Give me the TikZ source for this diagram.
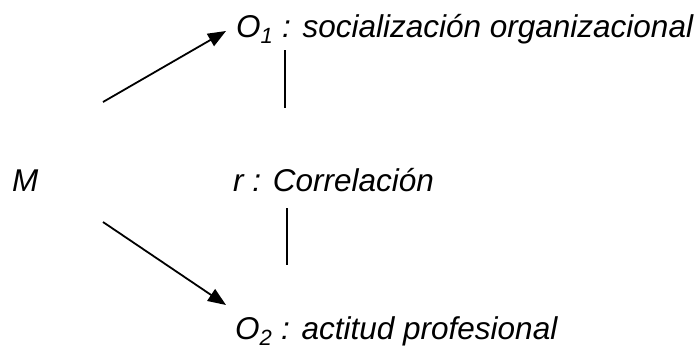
\documentclass[tikz,border=0pt]{standalone}
\usepackage{fontspec}
\setmainfont{Liberation Sans}
\usepackage{tikz}
\usetikzlibrary{arrows.meta}
\tikzstyle{arr}=[line width=1.8pt,-{Triangle[length=18pt,width=14pt]}]
\tikzstyle{bar}=[line width=1.8pt]
\tikzstyle{lbl}=[anchor=base west,inner sep=0pt,font=\fontsize{31.5}{37}\selectfont\itshape]
\begin{document}
\begin{tikzpicture}[x=1pt,y=-1pt]
  \useasboundingbox (0,0) rectangle (700,349);
  \node[lbl] (O1) at (236,37) {O\textsubscript{1} : socialización organizacional};
  \node[lbl] (M) at (12,191) {M};
  \node[lbl] (r) at (233,191) {r : Correlación};
  \node[lbl] (O2) at (235,339) {O\textsubscript{2} : actitud profesional};

  \coordinate (m1) at (103,102);
  \coordinate (m2) at (103,222);
  \coordinate (t1) at (226,31);
  \coordinate (t2) at (226,305);
  \coordinate (b1) at (285,50);
  \coordinate (b2) at (285,108);
  \coordinate (b3) at (287,208);
  \coordinate (b4) at (287,265);

  \draw[arr] (m1) -- (t1);
  \draw[arr] (m2) -- (t2);
  \draw[bar] (b1) -- (b2);
  \draw[bar] (b3) -- (b4);
\end{tikzpicture}
\end{document}
